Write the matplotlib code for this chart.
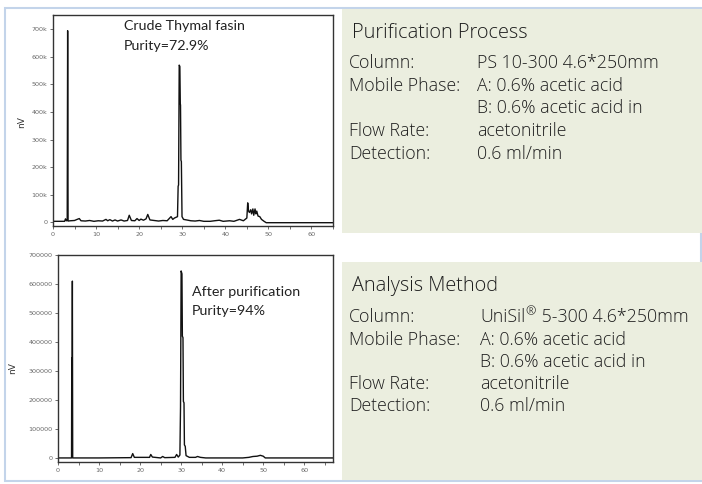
import matplotlib
matplotlib.use("Agg")
import matplotlib.pyplot as plt
from matplotlib.patches import Rectangle
from matplotlib.ticker import MultipleLocator, FixedLocator, FixedFormatter

W, H, DPI = 702, 484, 100

# ---------------- data ----------------
crude_time = [0.0, 2.7, 2.9, 3.1, 3.3, 3.4, 3.5, 4.0, 5.0, 5.6, 6.1, 6.5, 7.5, 8.5, 9.5,
              10.5, 11.5, 12.3, 12.7, 13.2, 13.8, 14.4, 15.0, 15.8, 16.5, 17.3, 17.7,
              18.2, 19.0, 19.5, 20.0, 20.4, 21.0, 21.6, 22.0, 22.5, 23.5, 24.5, 25.5,
              26.5, 27.4, 27.8, 28.2, 28.9, 29.05, 29.15, 29.3, 29.45, 29.55, 29.6,
              29.7, 29.8, 29.95, 30.3, 31.0, 32.0, 33.0, 34.0, 35.0, 36.5, 37.5, 38.6,
              39.5, 41.0, 42.0, 43.3, 44.2, 45.0, 45.2, 45.4, 45.6, 45.9, 46.1, 46.4,
              46.6, 46.9, 47.1, 47.3, 47.6, 48.0, 48.4, 49.0, 49.5, 55.0, 65.0]
crude_signal = [3000, 3000, 12000, 5000, 6000, 695000, 4000, 5000, 6000, 10000, 13000,
                5000, 4000, 6000, 3000, 5000, 4000, 10000, 5000, 9000, 4000, 8000, 4000,
                8000, 4000, 6000, 25000, 6000, 5000, 13000, 6000, 11000, 7000, 12000,
                28000, 8000, 6000, 4000, 6000, 5000, 20000, 10000, 15000, 20000, 130000,
                135000, 570000, 565000, 430000, 425000, 225000, 220000, 20000, 10000,
                8000, 5000, 4000, 6000, 3000, 3000, 5000, 7000, 3000, 5000, 3000, 10000,
                5000, 15000, 70000, 40000, 35000, 45000, 30000, 48000, 25000, 48000,
                30000, 40000, 22000, 20000, 10000, 3000, -2000, -2000, -2000]

pure_time = [0.0, 3.3, 3.35, 3.45, 3.5, 3.58, 10.0, 17.8, 18.2, 18.6, 22.3, 22.6, 23.0,
             25.0, 25.5, 26.0, 28.5, 28.9, 29.3, 29.7, 29.85, 30.0, 30.2, 30.3, 30.45,
             30.55, 30.7, 30.8, 31.0, 31.2, 32.0, 33.5, 34.0, 34.7, 36.0, 45.0, 46.5,
             47.5, 48.5, 49.3, 50.0, 50.5, 67.0]
pure_signal = [0, 0, 345000, 340000, 610000, 0, 0, 1000, 15000, 2000, 2000, 12000, 3000,
               0, 5000, 1000, 2000, 12000, 3000, 10000, 175000, 645000, 635000, 420000,
               415000, 195000, 190000, 45000, 40000, 8000, 2000, 2000, 5000, 2000, 0, 0,
               2000, 5000, 6000, 9000, 6000, 0, 0]

x_ticks = [0, 10, 20, 30, 40, 50, 60]
y_ticks = [0, 100000, 200000, 300000, 400000, 500000, 600000, 700000]
crude_y_labels = ["0", "100k", "200k", "300k", "400k", "500k", "600k", "700k"]
pure_y_labels = ["0", "100000", "200000", "300000", "400000", "500000", "600000", "700000"]
y_axis_label = "nV"

crude_note = ["Crude Thymal fasin", "Purity=72.9%"]
pure_note = ["After purification", "Purity=94%"]

panel_titles = ["Purification Process", "Analysis Method"]
row_labels = ["Column:", "Mobile Phase:", "", "Flow Rate:", "Detection:"]
purif_values = ["PS 10-300 4.6*250mm", "A: 0.6% acetic acid",
                "B: 0.6% acetic acid in", "acetonitrile", "0.6 ml/min"]
analysis_values = [("UniSil", "®", " 5-300 4.6*250mm"), "A: 0.6% acetic acid",
                   "B: 0.6% acetic acid in", "acetonitrile", "0.6 ml/min"]

# ---------------- helpers ----------------
fig = plt.figure(figsize=(W / DPI, H / DPI), dpi=DPI)
fig.patch.set_facecolor("white")
renderer = fig.canvas.get_renderer()


def fx(px):
    return px / W


def fy(py):
    return 1 - py / H


def rect(l, t, r, b):
    return [l / W, 1 - b / H, (r - l) / W, (b - t) / H]


def fit_size(s, width, family, weight="normal", base=10):
    t = fig.text(0, 0, s, fontsize=base, family=family, fontweight=weight)
    w = t.get_window_extent(renderer).width
    t.remove()
    return base * width / w


# ---------------- background panels ----------------
fig.patches.append(Rectangle((fx(5), fy(481)), (701 - 5) / W, (481 - 8) / H,
                             transform=fig.transFigure, facecolor="none",
                             edgecolor="#C3D4EA", linewidth=1.5, zorder=0))
panel_color = "#EBEEDF"
fig.patches.append(Rectangle((fx(342), fy(233)), (702 - 342) / W, (233 - 9) / H,
                             transform=fig.transFigure, facecolor=panel_color,
                             edgecolor="none", zorder=1))
fig.patches.append(Rectangle((fx(342), fy(480)), (702 - 342) / W, (480 - 262) / H,
                             transform=fig.transFigure, facecolor=panel_color,
                             edgecolor="none", zorder=1))

# ---------------- chromatograms ----------------
def setup_axes(ax, xlim, ylim, ylabels):
    ax.set_xlim(*xlim)
    ax.set_ylim(*ylim)
    ax.xaxis.set_major_locator(FixedLocator(x_ticks))
    ax.xaxis.set_minor_locator(MultipleLocator(5))
    ax.yaxis.set_major_locator(FixedLocator(y_ticks))
    ax.yaxis.set_major_formatter(FixedFormatter(ylabels))
    ax.tick_params(which="both", direction="out", length=2, width=0.6,
                   color="#555555", labelsize=4.6, labelcolor="#666666", pad=2)
    for sp in ax.spines.values():
        sp.set_linewidth(1.0)
        sp.set_color("#333333")


ax1 = fig.add_axes(rect(53, 15, 333, 226))
ax1.plot(crude_time, crude_signal, color="#111111", linewidth=1.0)
setup_axes(ax1, (0, 65), (-14000, 752000), crude_y_labels)
fig.text(fx(22), fy(122), y_axis_label, rotation=90, fontsize=6.5, color="#333333",
         ha="center", va="center")

ax2 = fig.add_axes(rect(58, 255, 333, 462))
ax2.plot(pure_time, pure_signal, color="#111111", linewidth=1.0)
setup_axes(ax2, (0, 67), (-14000, 700000), pure_y_labels)
fig.text(fx(13), fy(368), y_axis_label, rotation=90, fontsize=6.5, color="#333333",
         ha="center", va="center")

note_font = "Lato"
fs_note = fit_size(crude_note[0], 121, note_font)
fig.text(fx(124), fy(30.5), crude_note[0], fontsize=fs_note, family=note_font,
         color="#222222", va="baseline")
fig.text(fx(124), fy(50), crude_note[1], fontsize=fs_note, family=note_font,
         color="#222222", va="baseline")
fig.text(fx(192), fy(296.5), pure_note[0], fontsize=fs_note, family=note_font,
         color="#222222", va="baseline")
fig.text(fx(192), fy(315), pure_note[1], fontsize=fs_note, family=note_font,
         color="#222222", va="baseline")

# ---------------- text panels ----------------
panel_font = "Open Sans"
panel_weight = "light"
text_color = "#1e1e1e"
fs_title = fit_size(panel_titles[0], 175, panel_font, panel_weight)
fs_body = fit_size("Mobile Phase:", 111, panel_font, panel_weight)


def ptext(x, y, s, size):
    return fig.text(fx(x), fy(y), s, fontsize=size, family=panel_font,
                    fontweight=panel_weight, color=text_color, va="baseline", zorder=3)


def draw_panel(title, title_y, row_ys, values, value_x):
    ptext(352, title_y, title, fs_title)
    for lab, val, y in zip(row_labels, values, row_ys):
        if lab:
            ptext(349, y, lab, fs_body)
        if isinstance(val, tuple):
            x = value_x
            t = ptext(x, y, val[0], fs_body)
            x += t.get_window_extent(renderer).width + 0.5
            t = ptext(x, y - 6, val[1], fs_body * 0.7)
            x += t.get_window_extent(renderer).width + 0.5
            ptext(x, y, val[2], fs_body)
        else:
            ptext(value_x, y, val, fs_body)


draw_panel(panel_titles[0], 38, [68, 91, 113, 136, 159], purif_values, 477)
draw_panel(panel_titles[1], 290.5, [321.5, 345, 367, 389, 411], analysis_values, 480)

fig.savefig("out.png", dpi=DPI, facecolor="white")
